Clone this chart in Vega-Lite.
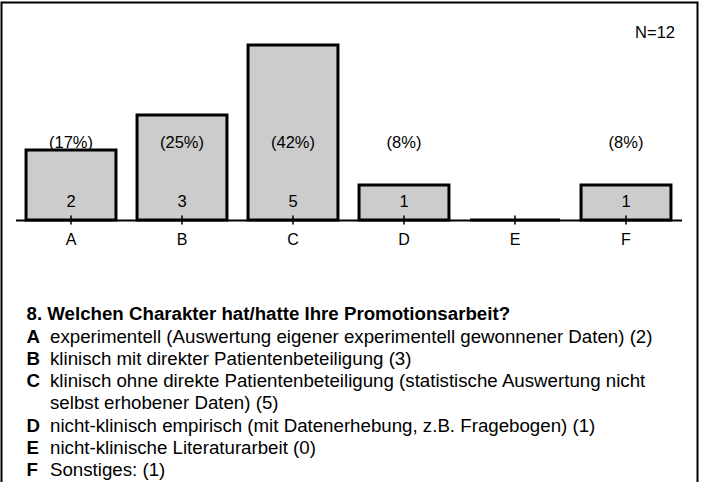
{
  "$schema": "https://vega.github.io/schema/vega-lite/v6.json",
  "width": 696,
  "height": 482,
  "autosize": {"type": "none"},
  "padding": {"left": 1.5, "top": 2.5, "right": 6.5, "bottom": -2.5},
  "background": "white",
  "config": {
    "view": {"stroke": "black", "strokeWidth": 2},
    "text": {"font": "Liberation Sans", "fontSize": 16.5, "color": "black"}
  },
  "datasets": {
    "bars": [
      {"cat": "A", "count": 2, "pct": "(17%)"},
      {"cat": "B", "count": 3, "pct": "(25%)"},
      {"cat": "C", "count": 5, "pct": "(42%)"},
      {"cat": "D", "count": 1, "pct": "(8%)"},
      {"cat": "E", "count": 0, "pct": ""},
      {"cat": "F", "count": 1, "pct": "(8%)"}
    ],
    "legend": [
      {"line": 0, "key": "8. Welchen Charakter hat/hatte Ihre Promotionsarbeit?", "label": ""},
      {"line": 1, "key": "A", "label": "experimentell (Auswertung eigener experimentell gewonnener Daten) (2)"},
      {"line": 2, "key": "B", "label": "klinisch mit direkter Patientenbeteiligung (3)"},
      {"line": 3, "key": "C", "label": "klinisch ohne direkte Patientenbeteiligung (statistische Auswertung nicht"},
      {"line": 4, "key": "", "label": "selbst erhobener Daten) (5)"},
      {"line": 5, "key": "D", "label": "nicht-klinisch empirisch (mit Datenerhebung, z.B. Fragebogen) (1)"},
      {"line": 6, "key": "E", "label": "nicht-klinische Literaturarbeit (0)"},
      {"line": 7, "key": "F", "label": "Sonstiges: (1)"}
    ]
  },
  "resolve": {"scale": {"x": "independent", "y": "independent"}},
  "layer": [
    {
      "data": {"name": "bars"},
      "encoding": {
        "x": {
          "field": "cat",
          "type": "nominal",
          "scale": {"domain": ["A", "B", "C", "D", "E", "F"], "range": [14, 680], "paddingInner": 0.19, "paddingOuter": 0.095},
          "axis": {
            "title": null, "ticks": false, "grid": false, "labelAngle": 0,
            "domainColor": "black", "domainWidth": 2,
            "labelFont": "Liberation Sans", "labelFontSize": 16, "labelColor": "black",
            "labelPadding": 11, "offset": -264.5
          }
        }
      },
      "layer": [
        {
          "mark": {"type": "bar", "fill": "#cccccc", "stroke": "black", "strokeWidth": 3},
          "encoding": {
            "y": {"field": "count", "type": "quantitative", "scale": {"domain": [0, 6], "range": [217.5, 7.5]}, "axis": null}
          }
        },
        {
          "mark": {"type": "tick", "orient": "vertical", "size": 9, "thickness": 1.5, "color": "black", "opacity": 1},
          "encoding": {"y": {"datum": 0}}
        },
        {
          "transform": [{"filter": "datum.count > 0"}],
          "mark": {"type": "text", "baseline": "middle", "dy": -18},
          "encoding": {"y": {"datum": 0}, "text": {"field": "count"}}
        },
        {
          "transform": [{"filter": "datum.count > 0"}],
          "mark": {"type": "text", "baseline": "middle"},
          "encoding": {"y": {"datum": 2.214}, "text": {"field": "pct"}}
        },
        {
          "data": {"values": [{"n": "N=12"}]},
          "mark": {"type": "text", "baseline": "middle", "align": "right", "dx": 49},
          "encoding": {"x": {"datum": "F"}, "y": {"datum": 5.337}, "text": {"field": "n"}}
        }
      ]
    },
    {
      "data": {"name": "legend"},
      "encoding": {
        "y": {"field": "line", "type": "quantitative", "scale": {"domain": [0, 7], "range": [311.8, 467.5]}, "axis": null}
      },
      "layer": [
        {
          "mark": {"type": "text", "align": "left", "baseline": "middle", "fontWeight": "bold", "fontSize": 18.7},
          "encoding": {
            "x": {"datum": 0, "type": "quantitative", "scale": {"domain": [0, 1], "range": [25, 48.5]}, "axis": null},
            "text": {"field": "key"}
          }
        },
        {
          "mark": {"type": "text", "align": "left", "baseline": "middle", "fontSize": 18.7},
          "encoding": {
            "x": {"datum": 1, "type": "quantitative"},
            "text": {"field": "label"}
          }
        }
      ]
    }
  ]
}
